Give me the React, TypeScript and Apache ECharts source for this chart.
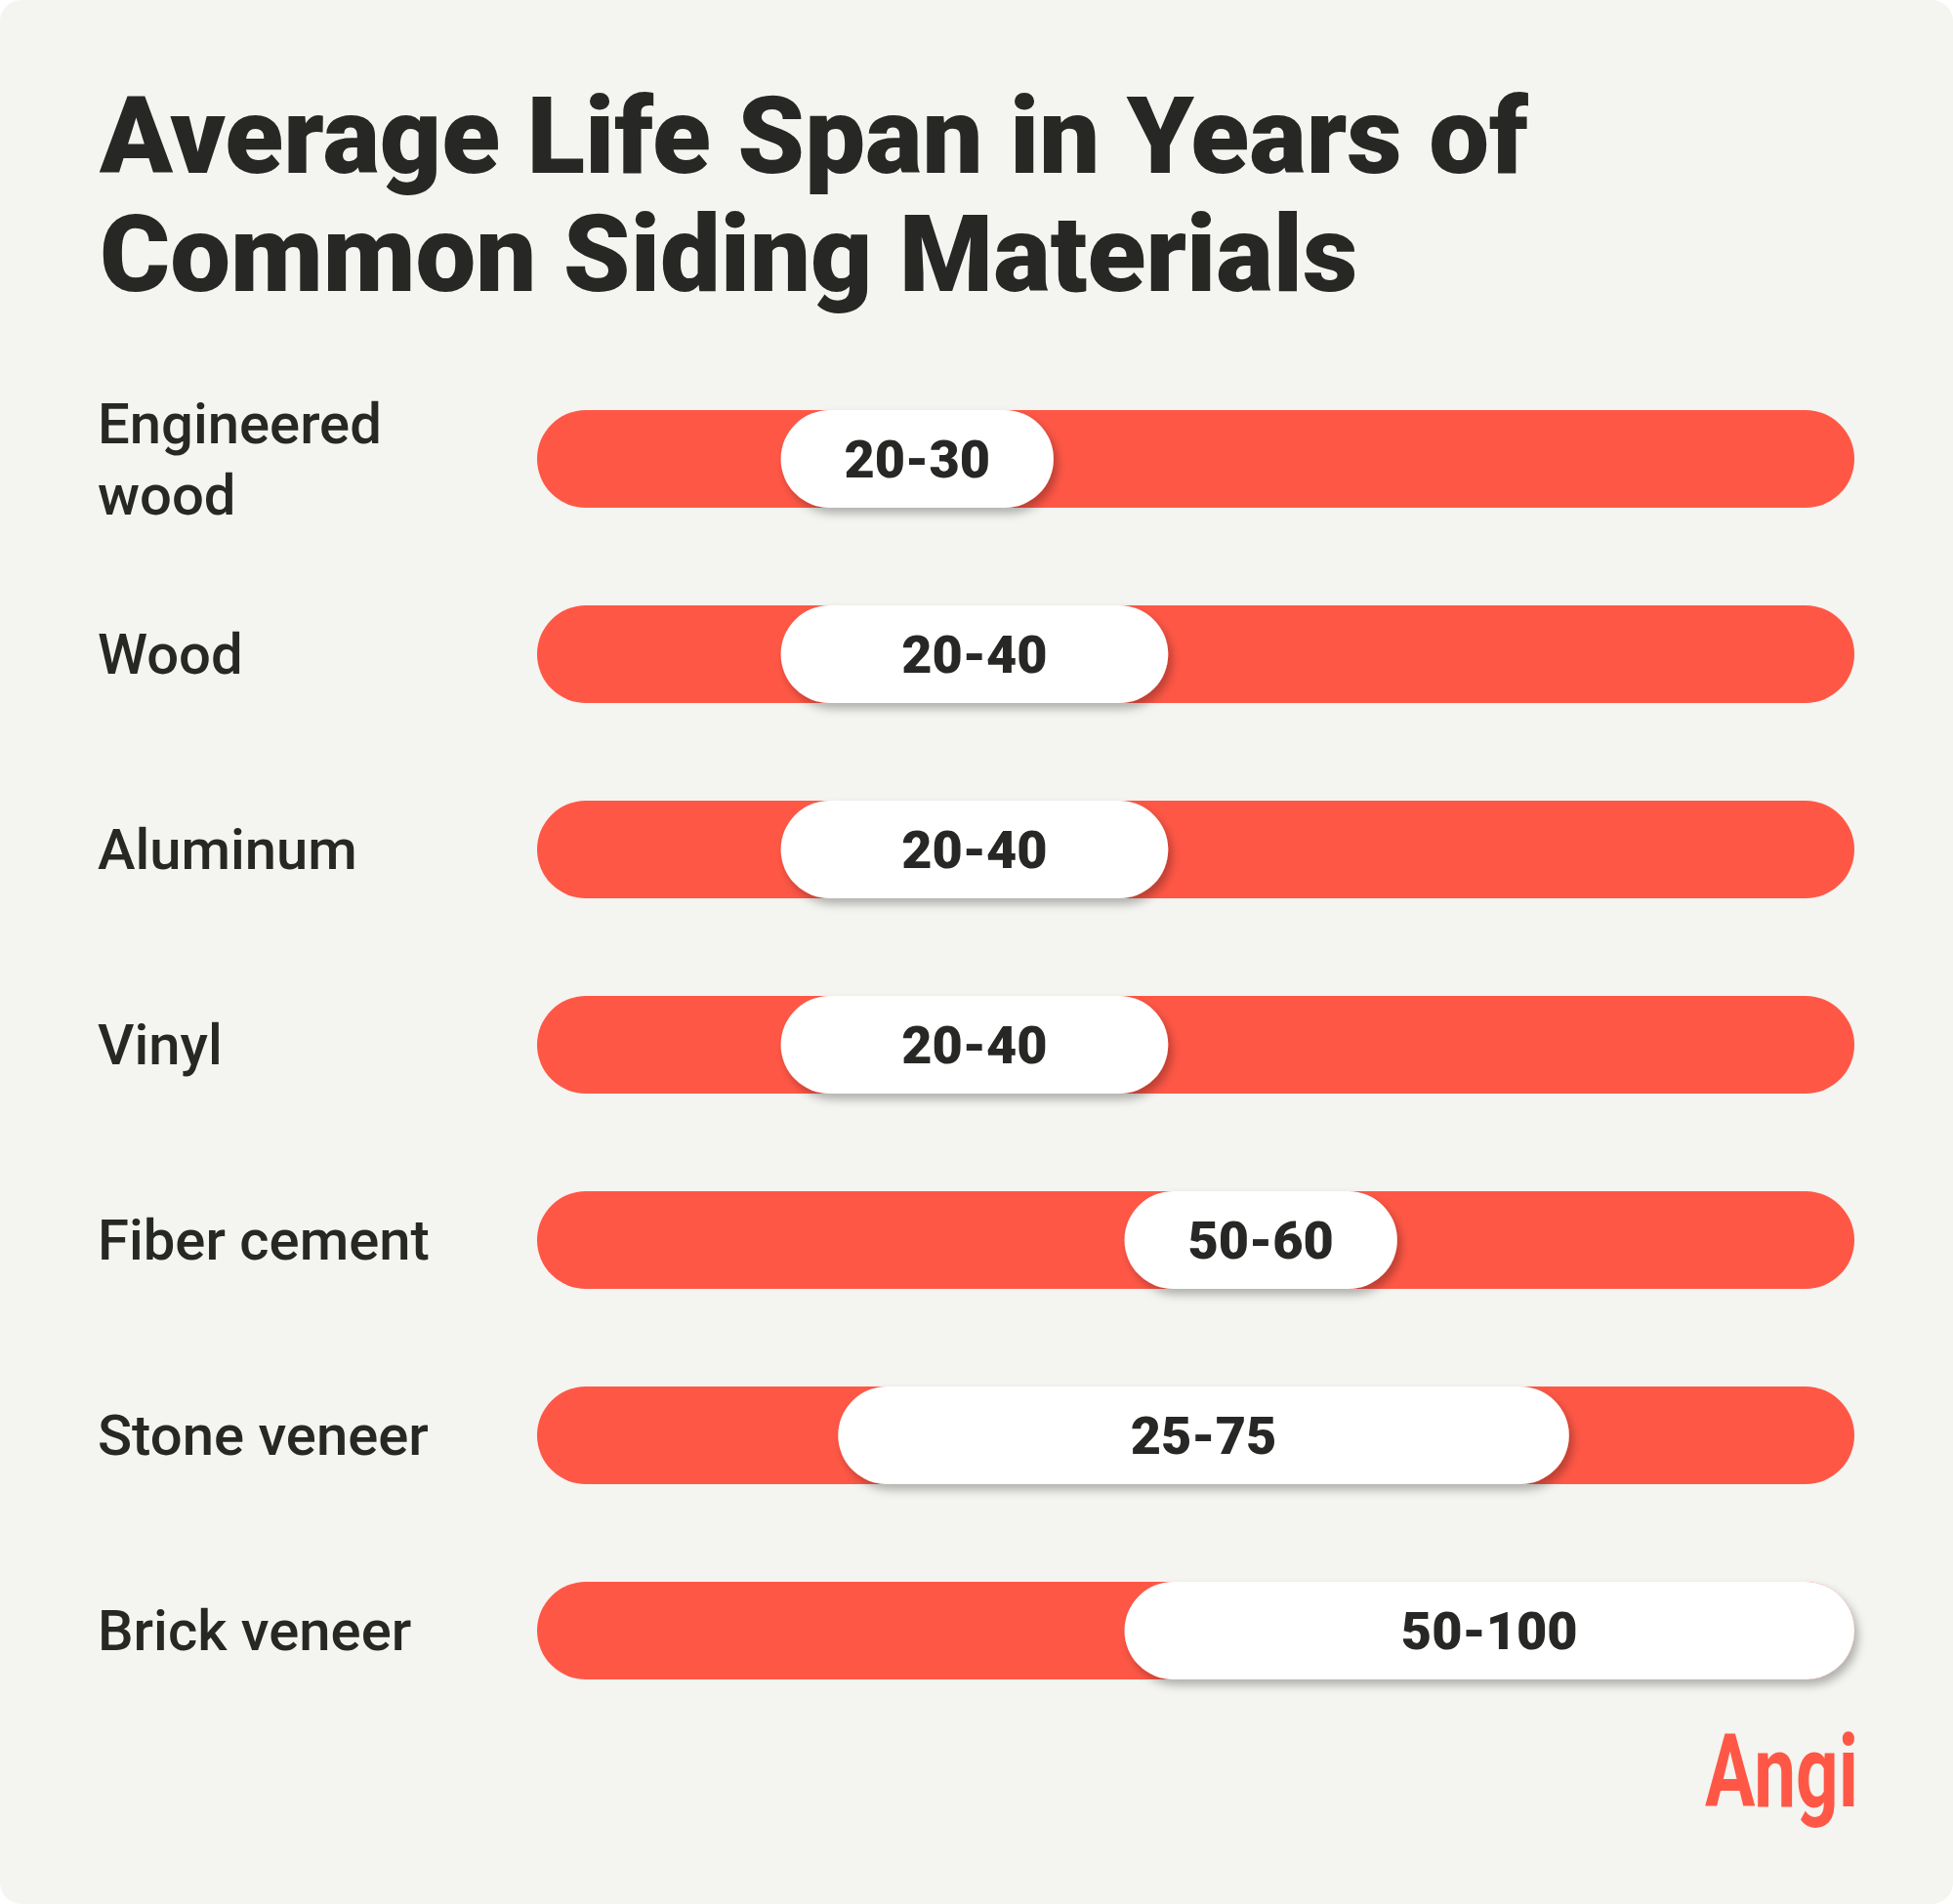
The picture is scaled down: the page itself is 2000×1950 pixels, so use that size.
import React, { useEffect, useRef } from "react";
import * as echarts from "echarts";

const titleLines = ["Average Life Span in Years of", "Common Siding Materials"];
const materials = ["Engineered\nwood", "Wood", "Aluminum", "Vinyl", "Fiber cement", "Stone veneer", "Brick veneer"];
const lifeStart = [20, 20, 20, 20, 50, 25, 50];
const lifeEnd = [30, 40, 40, 40, 60, 75, 100];
const axisMin = 0;
const axisMax = 115;
const brand = "Angi";

const RED = "#FF5746";
const INK = "#272725";
const CARD = "#F4F4F0";

export default function App() {
  const ref = useRef<HTMLDivElement>(null);

  useEffect(() => {
    document.body.style.margin = "0";
    if (!ref.current) return;
    const chart = echarts.init(ref.current, undefined, { renderer: "svg" });

    const trackData = materials.map((_, i) => [axisMin, axisMax, i]);
    const pillData = materials.map((_, i) => [lifeStart[i], lifeEnd[i], i]);

    const option: any = {
      animation: false,
      backgroundColor: "#ffffff",
      title: {
        text: titleLines.join("\n"),
        left: 97,
        top: 74,
        textStyle: {
          fontFamily: "Roboto",
          fontWeight: 900,
          fontSize: 110,
          lineHeight: 121,
          color: INK,
        },
      },
      graphic: [
        {
          type: "rect",
          z: -10,
          shape: { x: 0, y: 0, width: 2000, height: 1950, r: 22 },
          style: { fill: CARD },
        },
        {
          type: "text",
          x: 1746,
          y: 1814,
          scaleX: 0.735,
          z: 10,
          style: {
            text: brand,
            fill: RED,
            font: "bold 104px Roboto",
            align: "left",
            verticalAlign: "middle",
          },
        },
      ],
      grid: { left: 550, right: 101, top: 370, bottom: 180 },
      xAxis: {
        type: "value",
        min: axisMin,
        max: axisMax,
        show: false,
      },
      yAxis: {
        type: "category",
        data: materials,
        inverse: true,
        axisLine: { show: false },
        axisTick: { show: false },
        splitLine: { show: false },
        axisLabel: {
          align: "left",
          margin: 450,
          fontFamily: "Roboto",
          fontWeight: 500,
          fontSize: 58,
          lineHeight: 73,
          color: INK,
        },
      },
      series: [
        {
          type: "custom",
          name: "track",
          z: 2,
          encode: { x: [0, 1], y: 2 },
          data: trackData,
          renderItem: (params: any, api: any) => {
            const p0 = api.coord([api.value(0), api.value(2)]);
            const p1 = api.coord([api.value(1), api.value(2)]);
            return {
              type: "rect",
              shape: { x: p0[0], y: p0[1] - 50, width: p1[0] - p0[0], height: 100, r: 50 },
              style: { fill: RED },
            };
          },
        },
        {
          type: "custom",
          name: "lifespan",
          z: 3,
          encode: { x: [0, 1], y: 2 },
          data: pillData,
          renderItem: (params: any, api: any) => {
            const cs = params.coordSys;
            const s = api.value(0);
            const e = api.value(1);
            const p0 = api.coord([s, api.value(2)]);
            const p1 = api.coord([e, api.value(2)]);
            const left = p0[0] + 15;
            const right = Math.min(p1[0] + 177, cs.x + cs.width);
            const cy = p0[1];
            return {
              type: "group",
              children: [
                {
                  type: "rect",
                  shape: { x: left, y: cy - 50, width: right - left, height: 100, r: 50 },
                  style: {
                    fill: "#ffffff",
                    shadowBlur: 10,
                    shadowColor: "rgba(0,0,0,0.28)",
                    shadowOffsetX: 4,
                    shadowOffsetY: 6,
                  },
                },
                {
                  type: "text",
                  style: {
                    text: `${s}-${e}`,
                    x: (left + right) / 2,
                    y: cy,
                    align: "center",
                    verticalAlign: "middle",
                    font: "900 54px Roboto",
                    fill: INK,
                  },
                },
              ],
            };
          },
        },
      ],
    };

    chart.setOption(option);
    return () => chart.dispose();
  }, []);

  return <div ref={ref} style={{ width: 2000, height: 1950 }} />;
}
